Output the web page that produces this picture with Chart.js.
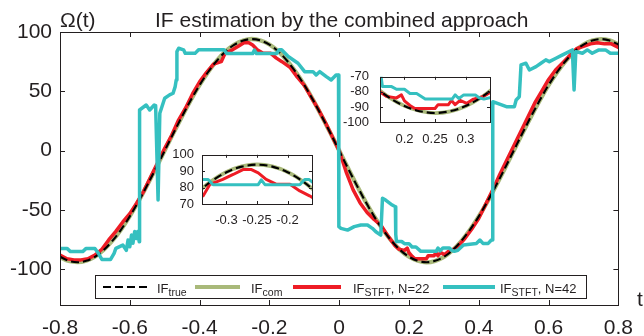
<!DOCTYPE html>
<html>
<head>
<meta charset="utf-8">
<script src="https://cdn.jsdelivr.net/npm/chart.js@4/dist/chart.umd.min.js"></script>
<style>
  body { margin: 0; background: #fff; }
  #wrap { position: relative; width: 644px; height: 336px; overflow: hidden;
          font-family: "Liberation Sans", Arial, sans-serif; color: #231f20; }
  canvas { position: absolute; }
  .lbl { position: absolute; font-size: 21px; line-height: 21px; white-space: nowrap; }
  #legend { position: absolute; left: 95px; top: 275px; width: 490px; height: 22px;
            border: 1px solid #231f20; background: #fff; font-size: 13px; }
  .smp { position: absolute; }
  .txt { position: absolute; top: 6px; line-height: 13px; white-space: nowrap; }
  .txt sub { font-size: 10.5px; vertical-align: baseline; position: relative; top: 3px; }
</style>
</head>
<body>
<div id="wrap">
  <canvas id="main" width="644" height="336" style="left:0;top:0"></canvas>
  <canvas id="zoomPeak" width="170" height="100" style="left:150px;top:139px"></canvas>
  <canvas id="zoomDip" width="170" height="100" style="left:330px;top:58px"></canvas>

  <div class="lbl" style="left:60px;top:9px">Ω(t)</div>
  <div class="lbl" style="left:155px;top:9px">IF estimation by the combined approach</div>
  <div class="lbl" style="left:637px;top:288px">t</div>

  <div id="legend">
    <div class="smp" style="left:7px;top:10px;width:44px;height:2px;background:repeating-linear-gradient(90deg,#000 0 8px,transparent 8px 12px)"></div>
    <div class="txt" style="left:61px">IF<sub>true</sub></div>
    <div class="smp" style="left:99px;top:9px;width:45px;height:4px;background:#a9b97a"></div>
    <div class="txt" style="left:155px">IF<sub>com</sub></div>
    <div class="smp" style="left:197px;top:9px;width:48px;height:4px;background:#ee1c25"></div>
    <div class="txt" style="left:257px">IF<sub>STFT</sub>, N=22</div>
    <div class="smp" style="left:347px;top:9px;width:52px;height:4px;background:#35c0c0"></div>
    <div class="txt" style="left:404px">IF<sub>STFT</sub>, N=42</div>
  </div>
</div>

<script>
// axis ticks
const xTicks = [-0.8, -0.6, -0.4, -0.2, 0, 0.2, 0.4, 0.6, 0.8];
const xTickLabels = ['-0.8', '-0.6', '-0.4', '-0.2', '0', '0.2', '0.4', '0.6', '0.8'];
const yTicks = [-100, -50, 0, 50, 100];
const yTickLabels = ['-100', '-50', '0', '50', '100'];

// zoom boxes
const peakXTicks = [-0.3, -0.25, -0.2];
const peakXLabels = ['-0.3', '-0.25', '-0.2'];
const peakYTicks = [70, 80, 90, 100];
const peakYLabels = ['70', '80', '90', '100'];
const dipXTicks = [0.2, 0.25, 0.3];
const dipXLabels = ['0.2', '0.25', '0.3'];
const dipYTicks = [-100, -90, -80, -70];
const dipYLabels = ['-100', '-90', '-80', '-70'];

// true IF and combined estimate
const tTrue = [-0.8, -0.775, -0.75, -0.725, -0.7, -0.675, -0.65, -0.625, -0.6, -0.575, -0.55, -0.525, -0.5,
  -0.475, -0.45, -0.425, -0.4, -0.375, -0.35, -0.325, -0.3, -0.275, -0.25, -0.225, -0.2, -0.175, -0.15,
  -0.125, -0.1, -0.075, -0.05, -0.025, 0, 0.025, 0.05, 0.075, 0.1, 0.125, 0.15, 0.175, 0.2, 0.225, 0.25,
  0.275, 0.3, 0.325, 0.35, 0.375, 0.4, 0.425, 0.45, 0.475, 0.5, 0.525, 0.55, 0.575, 0.6, 0.625, 0.65,
  0.675, 0.7, 0.725, 0.75, 0.775, 0.8];
const ifTrue = [-89.4, -92.8, -94, -92.8, -89.4, -83.8, -76, -66.5, -55.3, -42.7, -29, -14.7, 0,
  14.7, 29, 42.7, 55.3, 66.5, 76, 83.8, 89.4, 92.8, 94, 92.8, 89.4, 83.8, 76, 66.5, 55.3, 42.7, 29, 14.7, 0,
  -14.7, -29, -42.7, -55.3, -66.5, -76, -83.8, -89.4, -92.8, -94, -92.8, -89.4, -83.8, -76, -66.5, -55.3,
  -42.7, -29, -14.7, 0, 14.7, 29, 42.7, 55.3, 66.5, 76, 83.8, 89.4, 92.8, 94, 92.8, 89.4];
const ifCom = [-89.6, -92.9, -93.8, -92.6, -89.2, -83.6, -75.8, -66.3, -55.1, -42.5, -28.8, -14.5, 0.2,
  14.8, 29.1, 42.8, 55.4, 66.6, 76.1, 83.9, 89.5, 92.9, 94.1, 92.9, 89.5, 83.9, 76.1, 66.6, 55.4, 42.8, 29.1, 14.8, 0.1,
  -14.6, -28.9, -42.6, -55.2, -66.4, -75.9, -83.7, -89.3, -92.7, -94.1, -92.9, -89.5, -83.9, -76.1, -66.6, -55.4,
  -42.8, -29.1, -14.8, -0.1, 14.6, 28.9, 42.6, 55.2, 66.4, 75.9, 83.7, 89.3, 92.7, 94, 92.9, 89.6];

// STFT estimate, N=22
const tStft22 = [-0.8, -0.78, -0.76, -0.74, -0.72, -0.7, -0.68, -0.66, -0.64, -0.62, -0.6, -0.58, -0.56,
  -0.54, -0.52, -0.5, -0.48, -0.46, -0.44, -0.42, -0.4, -0.38, -0.36, -0.338, -0.327, -0.306, -0.289,
  -0.273, -0.259, -0.248, -0.235, -0.218, -0.196, -0.18, -0.164, -0.14, -0.12, -0.1, -0.08, -0.06, -0.04,
  -0.02, 0, 0.02, 0.04, 0.06, 0.08, 0.1, 0.12, 0.14, 0.16, 0.171, 0.187, 0.195, 0.2, 0.209, 0.217, 0.25,
  0.255, 0.272, 0.277, 0.283, 0.291, 0.302, 0.313, 0.329, 0.34, 0.36, 0.38, 0.4, 0.42, 0.44, 0.46, 0.48,
  0.5, 0.52, 0.54, 0.56, 0.58, 0.6, 0.62, 0.64, 0.66, 0.68, 0.7, 0.72, 0.74, 0.76, 0.78, 0.8];
const ifStft22 = [-88, -91, -92, -92, -91, -88, -83, -75, -68, -60, -53, -44, -34,
  -22, -10, 2, 13, 26, 36, 48, 58, 66, 73, 75, 82, 85, 88,
  91, 91, 89, 85, 82, 82, 78, 75, 70, 62, 55, 45, 35, 24,
  12, 0, -18, -33, -44, -52, -58, -63, -72, -80, -83, -84, -82, -86, -89, -91, -91,
  -88.5, -88.5, -85.7, -88.5, -85.7, -87.6, -84.8, -83, -80.5, -74, -66, -57, -45, -33, -20, -8,
  4, 16, 28, 40, 50, 60, 68, 74, 80, 86, 88, 90, 91, 90, 90, 87];

// STFT estimate, N=42
const tStft42 = [-0.8, -0.78, -0.77, -0.735, -0.725, -0.7, -0.69, -0.68, -0.655, -0.645, -0.64, -0.62,
  -0.61, -0.605, -0.6, -0.595, -0.591, -0.586, -0.581, -0.577, -0.573, -0.572, -0.553, -0.543, -0.53,
  -0.526, -0.519, -0.514, -0.5, -0.486, -0.476, -0.47, -0.467, -0.465, -0.46, -0.446, -0.441, -0.413,
  -0.403, -0.33, -0.322, -0.248, -0.243, -0.237, -0.18, -0.172, -0.165, -0.146, -0.118, -0.099, -0.075,
  -0.066, -0.056, -0.037, -0.023, -0.009, -0.002, -0.001, 0.005, 0.024, 0.043, 0.062, 0.081, 0.095,
  0.105, 0.119, 0.124, 0.133, 0.152, 0.161, 0.162, 0.164, 0.179, 0.187, 0.2, 0.209, 0.22, 0.234, 0.278,
  0.283, 0.289, 0.297, 0.316, 0.322, 0.33, 0.34, 0.356, 0.393, 0.403, 0.412, 0.427, 0.436, 0.439, 0.44,
  0.479, 0.502, 0.507, 0.516, 0.521, 0.535, 0.545, 0.564, 0.578, 0.592, 0.602, 0.621, 0.64, 0.659,
  0.668, 0.673, 0.678, 0.697, 0.711, 0.725, 0.744, 0.763, 0.777, 0.8];
const ifStft42 = [-82.3, -82.3, -85, -85, -82.3, -82.3, -86.5, -91.6, -91.6, -86.5, -82.3, -79.5,
  -84, -75.3, -81, -71, -78, -68, -74, -68, -76.7, 34.3, 38.5, 34.3, 38.5,
  38, -41.6, 31.5, 44.2, 47, 48.4, 54, 59.6, 83.5, 86.3, 85, 82, 82,
  85, 85, 81.8, 81.8, 84.7, 81.8, 81.8, 85, 85, 79.3, 73.7, 66.6, 66.6,
  63.8, 66.6, 62.4, 59.6, 63.8, 63.8, -64, -65.4, -66.9, -64, -62.6, -62.6, -65.4,
  -68.3, -71.1, -40.1, -41.6, -45.8, -47.2, -70.5, -76.5, -76.5, -78.3, -78.3, -81.1, -81.1, -84.8, -84.8,
  -82, -84.4, -82, -82, -83.9, -84.8, -83.9, -79.5, -78.1, -75.3, -78.1, -78.1, -75.3, -75.3, 41.3,
  37.1, 37.1, 42.7, 45.5, 72.3, 73.7, 68, 70.8, 73.7, 76.5, 75, 77.9, 80.7, 83.5,
  84.9, 51.2, 83.5, 82.1, 84.9, 82.1, 84.9, 84.9, 82.1, 82.1];

const CYAN = '#35c0c0', RED = '#ee1c25', OLIVE = '#a9b97a', INK = '#231f20';
const FONT = '"Liberation Sans", Arial, sans-serif';
Chart.defaults.font.family = FONT;
Chart.defaults.color = INK;

function pts(xs, ys) {
  return xs.map((x, i) => ({ x: x, y: ys[i] }));
}

function makeSets(lw) {
  const common = { pointRadius: 0, fill: false, clip: 0, borderJoinStyle: 'round', borderCapStyle: 'round' };
  return [
    { label: 'IF STFT, N=42', data: pts(tStft42, ifStft42), borderColor: CYAN, borderWidth: lw },
    { label: 'IF true', data: pts(tTrue, ifTrue), borderColor: '#000', borderWidth: 2.1,
      borderDash: [8, 4], borderCapStyle: 'butt', cubicInterpolationMode: 'monotone' },
    { label: 'IF STFT, N=22', data: pts(tStft22, ifStft22), borderColor: RED, borderWidth: lw },
    { label: 'IF com', data: pts(tTrue, ifCom), borderColor: OLIVE, borderWidth: lw + 0.8,
      cubicInterpolationMode: 'monotone' }
  ].map(d => Object.assign({}, common, d));
}

// box around the plot area with short inward tick marks on all sides
const frameTicks = {
  id: 'frameTicks',
  afterDatasetsDraw(chart, args, opts) {
    const { ctx, chartArea: a, scales: { x, y } } = chart;
    const len = opts.len || 5;
    ctx.save();
    ctx.strokeStyle = INK;
    ctx.lineWidth = 1;
    ctx.strokeRect(Math.round(a.left) + 0.5, Math.round(a.top) + 0.5,
      Math.round(a.right - a.left), Math.round(a.bottom - a.top));
    ctx.beginPath();
    x.ticks.forEach(t => {
      const px = Math.round(x.getPixelForValue(t.value)) + 0.5;
      if (px < a.left + 2 || px > a.right - 2) return;
      ctx.moveTo(px, a.top); ctx.lineTo(px, a.top + len);
      ctx.moveTo(px, a.bottom); ctx.lineTo(px, a.bottom - len);
    });
    y.ticks.forEach(t => {
      const py = Math.round(y.getPixelForValue(t.value)) + 0.5;
      if (py < a.top + 2 || py > a.bottom - 2) return;
      ctx.moveTo(a.left, py); ctx.lineTo(a.left + len, py);
      ctx.moveTo(a.right, py); ctx.lineTo(a.right - len, py);
    });
    ctx.stroke();
    ctx.restore();
  }
};

function makeChart(id, cfg) {
  return new Chart(document.getElementById(id), {
    type: 'line',
    data: { datasets: makeSets(cfg.lw) },
    options: {
      responsive: false,
      animation: false,
      events: [],
      layout: { padding: cfg.pad },
      plugins: { legend: { display: false }, tooltip: { enabled: false }, frameTicks: { len: cfg.tick } },
      scales: {
        x: {
          type: 'linear', min: cfg.xMin, max: cfg.xMax,
          afterBuildTicks: s => { s.ticks = cfg.xTicks.map(v => ({ value: v })); },
          afterFit: s => { s.height = cfg.xH; },
          grid: { display: false, drawTicks: false },
          border: { display: false },
          ticks: { autoSkip: false, maxRotation: 0, padding: cfg.xPad,
            font: { size: cfg.font }, callback: (v, i) => cfg.xLabels[i] }
        },
        y: {
          min: cfg.yMin, max: cfg.yMax,
          afterBuildTicks: s => { s.ticks = cfg.yTicks.map(v => ({ value: v })); },
          afterFit: s => { s.width = cfg.yW; },
          grid: { display: false, drawTicks: false },
          border: { display: false },
          ticks: { autoSkip: false, padding: cfg.yPad,
            font: { size: cfg.font }, callback: (v, i) => cfg.yLabels[i] }
        }
      }
    },
    plugins: [frameTicks]
  });
}

makeChart('main', {
  lw: 3.5, tick: 5, font: 21,
  pad: { left: 0, right: 21, top: 32, bottom: 0 },
  xMin: -0.8, xMax: 0.8, xTicks: xTicks, xLabels: xTickLabels, xH: 31, xPad: 11,
  yMin: -130, yMax: 100, yTicks: yTicks, yLabels: yTickLabels, yW: 60, yPad: 8
});

makeChart('zoomPeak', {
  lw: 3, tick: 3, font: 13,
  pad: { left: 0, right: 8, top: 10, bottom: 0 },
  xMin: -0.34, xMax: -0.16, xTicks: peakXTicks, xLabels: peakXLabels, xH: 35, xPad: 9,
  yMin: 70, yMax: 100, yTicks: peakYTicks, yLabels: peakYLabels, yW: 52, yPad: 8
});

makeChart('zoomDip', {
  lw: 3, tick: 3, font: 13,
  pad: { left: 0, right: 10, top: 10, bottom: 0 },
  xMin: 0.16, xMax: 0.34, xTicks: dipXTicks, xLabels: dipXLabels, xH: 36, xPad: 10,
  yMin: -100, yMax: -70, yTicks: dipYTicks, yLabels: dipYLabels, yW: 50, yPad: 11
});
</script>
</body>
</html>
